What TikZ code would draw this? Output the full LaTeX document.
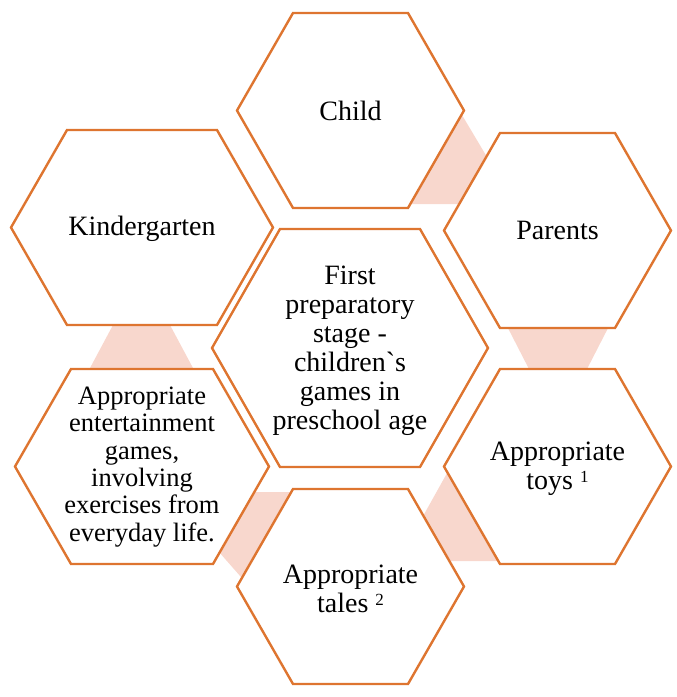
\documentclass[tikz,border=0pt]{standalone}
\usepackage{fontspec}
\setmainfont{Liberation Serif}[Ligatures=TeXOff]
\definecolor{hexline}{HTML}{DE7530}
\definecolor{linkfill}{HTML}{F8D7CD}
\tikzset{
  hexbox/.style={draw=hexline, line width=2.4pt, fill=white, line join=miter},
  linkshape/.style={fill=linkfill, draw=none},
  lbl/.style={align=center, inner sep=0pt, text=black, font=\fontsize{28}{29}\selectfont},
  lblsmall/.style={lbl, font=\fontsize{26.5}{27.3}\selectfont},
}
% cx, cy, half width, half height, inset
\newcommand{\hexpath}[5]{%
  \filldraw[hexbox] ({#1-#3},#2) -- ({#1-#3+#5},{#2-#4}) -- ({#1+#3-#5},{#2-#4})
    -- ({#1+#3},#2) -- ({#1+#3-#5},{#2+#4}) -- ({#1-#3+#5},{#2+#4}) -- cycle;}
\newcommand{\supmark}[1]{\raisebox{7.5pt}{\fontsize{17}{17}\selectfont #1}}
\begin{document}
\begin{tikzpicture}[x=1pt,y=-1pt]
\useasboundingbox (0,0) rectangle (677,697);
% connectors
\fill[linkshape] (459,110) -- (515,204) -- (400,204) -- (400,110) -- cycle;
\fill[linkshape] (493.6,300) -- (622.4,300) -- (581.4,380) -- (534.6,380) -- cycle;
\fill[linkshape] (451,466) -- (510,466) -- (510,561) -- (398,561) -- cycle;
\fill[linkshape] (255,492) -- (300,492) -- (260,585) -- (248,585) -- (219,552) -- cycle;
\fill[linkshape] (131.7,290) -- (151.3,290) -- (199.4,380) -- (83.6,380) -- cycle;
% hexagons
\hexpath{350.5}{110.5}{113.5}{97.5}{56}
\hexpath{557.5}{230.5}{113.5}{97.5}{56}
\hexpath{142}{227.5}{131}{97.5}{56}
\hexpath{350}{348}{138}{119}{68}
\hexpath{142}{466.5}{127}{97.5}{56}
\hexpath{557.5}{466.5}{113.5}{97.5}{56}
\hexpath{350.5}{586.5}{113.5}{97.5}{56}
% labels
\node[lbl] (child) at (350.5,110.5) {Child};
\node[lbl] (parents) at (557.5,230.5) {Parents};
\node[lbl] (kinder) at (142,228.5) {Kindergarten};
\node[lbl] (stage) at (350,351) {First\\preparatory\\stage -\\children`s\\games in\\preschool age};
\node[lblsmall] (ent) at (142,467) {Appropriate\\entertainment\\games,\\involving\\exercises from\\everyday life.};
\node[lbl] (toys) at (557.5,469) {Appropriate\\toys \supmark{1}};
\node[lbl] (tales) at (350.5,589) {Appropriate\\tales \supmark{2}};
\end{tikzpicture}
\end{document}
